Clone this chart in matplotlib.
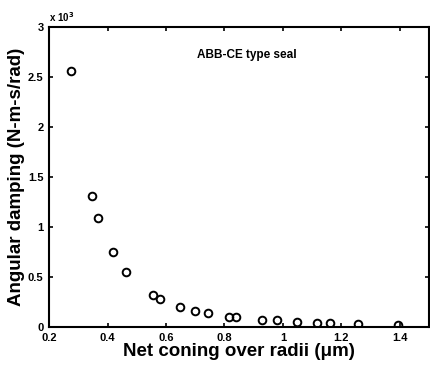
import matplotlib
matplotlib.use("Agg")
import matplotlib.pyplot as plt
from matplotlib.ticker import FuncFormatter

plt.rcParams['font.family'] = ['Liberation Sans', 'DejaVu Sans']
plt.rcParams['font.weight'] = 'bold'

coning = [0.275, 0.347, 0.368, 0.419, 0.464, 0.557, 0.581, 0.649, 0.700, 0.742,
          0.817, 0.841, 0.930, 0.978, 1.047, 1.115, 1.160, 1.256, 1.393]
damping = [2560, 1310, 1090, 750, 550, 320, 280, 200, 160, 140,
           100, 100, 70, 70, 50, 40, 40, 30, 20]
x_ticks = [0.2, 0.4, 0.6, 0.8, 1.0, 1.2, 1.4]
y_ticks = [0, 0.5, 1, 1.5, 2, 2.5, 3]

fig = plt.figure(figsize=(4.3, 3.71), dpi=100)
ax = fig.add_axes([0.114, 0.1186, 0.884, 0.809])
ax.plot(coning, [d / 1000 for d in damping], 'o', mfc='none', mec='black',
        ms=5.5, mew=1.4, linestyle='none')
ax.set_xlim(0.2, 1.5)
ax.set_ylim(0, 3)
ax.set_xticks(x_ticks)
ax.set_yticks(y_ticks)
fmt = FuncFormatter(lambda v, p: ('%g' % v))
ax.xaxis.set_major_formatter(fmt)
ax.yaxis.set_major_formatter(fmt)
ax.tick_params(direction='in', length=3, width=1.2, labelsize=8, top=True, right=True)
ax.tick_params(axis='x', pad=4)
ax.tick_params(axis='y', pad=4)
for lab in ax.get_xticklabels() + ax.get_yticklabels():
    lab.set_fontweight('bold')
for s in ax.spines.values():
    s.set_linewidth(1.5)
ax.set_xlabel('Net coning over radii (\u03bcm)', fontsize=13.5, fontweight='bold', labelpad=0)
ax.set_ylabel('Angular damping (N-m-s/rad)', fontsize=13.5, fontweight='bold', labelpad=2)
ax.text(0.875, 2.72, 'ABB-CE type seal', fontsize=8.5, fontweight='bold', ha='center', va='center')
ax.text(0.0, 1.01, 'x 10$^3$', transform=ax.transAxes, fontsize=7, fontweight='bold',
        ha='left', va='bottom')
fig.savefig('out.png', dpi=100)
